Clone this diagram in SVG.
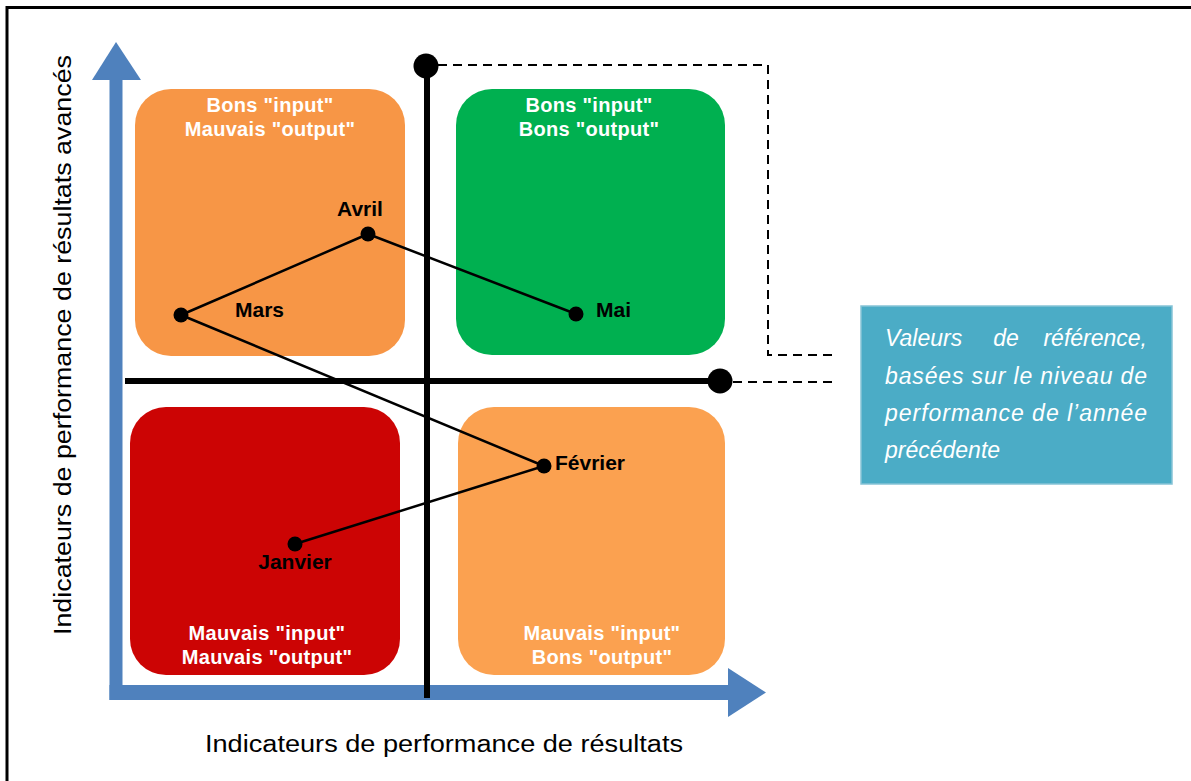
<svg xmlns="http://www.w3.org/2000/svg" width="1191" height="781" viewBox="0 0 1191 781">
<style>
.box-t{font-family:"Liberation Sans",Arial,sans-serif;font-size:20px;font-weight:bold;fill:#ffffff;text-anchor:middle;letter-spacing:0.3px}
.lbl{font-family:"Liberation Sans",Arial,sans-serif;font-size:21px;font-weight:bold;fill:#000000}
.ax{font-family:"Liberation Sans",Arial,sans-serif;font-size:23px;fill:#000000}
.call{font-family:"Liberation Sans",Arial,sans-serif;font-size:23px;font-style:italic;fill:#ffffff}
.dash{fill:none;stroke:#000;stroke-width:2;stroke-dasharray:9 6}
.blk{stroke:#000;stroke-width:6;fill:none}
.path{stroke:#000;stroke-width:2.5;fill:none;stroke-linejoin:round}
</style>
<rect x="0" y="0" width="1191" height="781" fill="#ffffff"/>
<rect x="7" y="7.5" width="1220" height="800" fill="none" stroke="#000" stroke-width="3"/>

<g id="box-top-left">
<rect x="135" y="89" width="270" height="267" rx="36" fill="#F79646"/>
<text class="box-t" x="270" y="112">Bons "input"</text>
<text class="box-t" x="270" y="136">Mauvais "output"</text>
</g>
<g id="box-top-right">
<rect x="456" y="89" width="269" height="266" rx="36" fill="#00B050"/>
<text class="box-t" x="589" y="112">Bons "input"</text>
<text class="box-t" x="589" y="136">Bons "output"</text>
</g>
<g id="box-bottom-left">
<rect x="130" y="407" width="270" height="268" rx="36" fill="#CC0404"/>
<text class="box-t" x="267" y="640">Mauvais "input"</text>
<text class="box-t" x="267" y="664">Mauvais "output"</text>
</g>
<g id="box-bottom-right">
<rect x="458" y="407" width="267" height="268" rx="36" fill="#FBA150"/>
<text class="box-t" x="602" y="640">Mauvais "input"</text>
<text class="box-t" x="602" y="664">Bons "output"</text>
</g>

<g id="axes">
<rect x="109.5" y="76" width="13" height="624" fill="#4F81BD"/>
<polygon points="92,80 116,42 141,80" fill="#4F81BD"/>
<rect x="109.5" y="685" width="621" height="15" fill="#4F81BD"/>
<polygon points="728,668 766,692.5 728,717" fill="#4F81BD"/>
</g>

<g id="connectors">
<line class="blk" x1="427" y1="66" x2="427" y2="698"/>
<line class="blk" x1="125" y1="381" x2="720" y2="381"/>
<circle cx="426" cy="66" r="12.5" fill="#000"/>
<circle cx="720" cy="381" r="12.5" fill="#000"/>
<polyline class="dash" points="438,65 768,65 768,355 838,355"/>
<line class="dash" x1="733" y1="382" x2="838" y2="382"/>
<polyline class="path" points="295,544 544,466 181,315 368,234 576,314"/>
</g>

<g id="points">
<circle cx="295" cy="544" r="7.5" fill="#000"/>
<circle cx="544" cy="466" r="7.5" fill="#000"/>
<circle cx="181" cy="315" r="7.5" fill="#000"/>
<circle cx="368" cy="234" r="7.5" fill="#000"/>
<circle cx="576" cy="314" r="7.5" fill="#000"/>
<text class="lbl" x="360" y="216" text-anchor="middle">Avril</text>
<text class="lbl" x="235" y="317">Mars</text>
<text class="lbl" x="596" y="317">Mai</text>
<text class="lbl" x="555" y="470">Février</text>
<text class="lbl" x="295" y="569" text-anchor="middle">Janvier</text>
</g>

<g id="callout">
<rect x="861" y="306" width="311" height="178" fill="#4BACC6" stroke="#86C3D6" stroke-width="1.5"/>
<text class="call" x="885" y="346">Valeurs</text>
<text class="call" x="1006" y="346" text-anchor="middle">de</text>
<text class="call" x="1147" y="346" text-anchor="end">référence,</text>
<text class="call" x="885" y="384" textLength="262" lengthAdjust="spacing">basées sur le niveau de</text>
<text class="call" x="885" y="421" textLength="262" lengthAdjust="spacing">performance de l’année</text>
<text class="call" x="885" y="458">précédente</text>
</g>

<g id="axis-labels">
<text class="ax" x="205" y="752" textLength="478" lengthAdjust="spacingAndGlyphs">Indicateurs de performance de résultats</text>
<text class="ax" transform="translate(71,635) rotate(-90)" x="0" y="0" textLength="580" lengthAdjust="spacingAndGlyphs">Indicateurs de performance de résultats avancés</text>
</g>
</svg>
